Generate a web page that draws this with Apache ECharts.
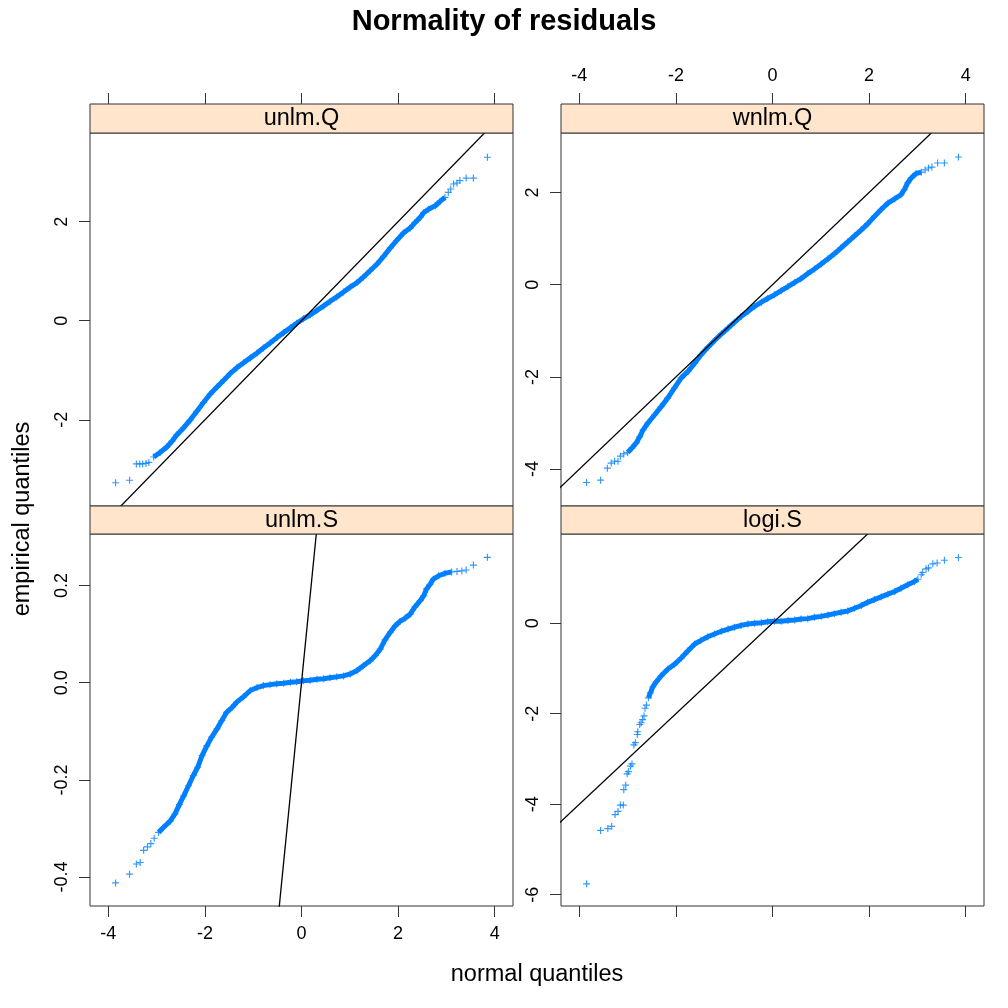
<!DOCTYPE html>
<html>
<head>
<meta charset="utf-8">
<title>Normality of residuals</title>
<script src="https://cdn.jsdelivr.net/npm/echarts@6.0.0/dist/echarts.min.js"></script>
<style>
html, body { margin: 0; padding: 0; background: #fff; }
#chart { width: 1008px; height: 1008px; }
</style>
</head>
<body>
<div id="chart"></div>
<script>
// strip labels: top-left, top-right, bottom-left, bottom-right
var panels = ['unlm.Q', 'wnlm.Q', 'unlm.S', 'logi.S'];

var xTicks = [-4, -2, 0, 2, 4];
var yTicksUnlmQ = [-2, 0, 2];
var yTicksWnlmQ = [-4, -2, 0, 2];
var yTicksUnlmS = [-0.4, -0.2, 0, 0.2];
var yTicksLogiS = [-6, -4, -2, 0];

// reference line y = x
var identity = [[-8, -8], [8, 8]];

// [normal quantile, empirical quantile]
var unlmQBand = [
    [-3.06, -2.75], [-2.93, -2.66], [-2.79, -2.55], [-2.68, -2.43], [-2.58, -2.30],
    [-2.44, -2.16], [-2.31, -2.01], [-2.17, -1.83], [-2.03, -1.65], [-1.89, -1.48],
    [-1.75, -1.34], [-1.61, -1.20], [-1.48, -1.07], [-1.34, -0.95], [-1.20, -0.85],
    [-1.06, -0.75], [-0.92, -0.65], [-0.79, -0.55], [-0.65, -0.45], [-0.51, -0.34],
    [-0.37, -0.24], [-0.23, -0.14], [-0.10, -0.05], [0.04, 0.04], [0.18, 0.12],
    [0.32, 0.21], [0.46, 0.30], [0.59, 0.39], [0.73, 0.48], [0.87, 0.58],
    [1.01, 0.68], [1.15, 0.77], [1.28, 0.88], [1.42, 1.01], [1.56, 1.14],
    [1.70, 1.30], [1.84, 1.47], [1.97, 1.62], [2.11, 1.77], [2.25, 1.87],
    [2.35, 1.98], [2.46, 2.09], [2.53, 2.18], [2.63, 2.25], [2.77, 2.32],
    [2.87, 2.41], [2.97, 2.49]
];
var unlmQTail = [
    [-3.85, -3.27], [-3.56, -3.22], [-3.42, -2.89], [-3.35, -2.89], [-3.29, -2.89],
    [-3.22, -2.88], [-3.16, -2.86], [3.04, 2.59], [3.09, 2.66], [3.15, 2.76],
    [3.22, 2.78], [3.28, 2.83], [3.41, 2.88], [3.56, 2.88], [3.85, 3.30]
];

var wnlmQBand = [
    [-3.00, -3.64], [-2.91, -3.54], [-2.82, -3.43], [-2.75, -3.30], [-2.68, -3.15],
    [-2.58, -3.00], [-2.44, -2.82], [-2.31, -2.65], [-2.17, -2.46], [-2.03, -2.24],
    [-1.89, -2.02], [-1.75, -1.88], [-1.61, -1.70], [-1.48, -1.52], [-1.34, -1.36],
    [-1.20, -1.21], [-1.06, -1.07], [-0.92, -0.94], [-0.79, -0.82], [-0.65, -0.69],
    [-0.51, -0.58], [-0.37, -0.47], [-0.23, -0.38], [-0.10, -0.30], [0.04, -0.22],
    [0.18, -0.13], [0.32, -0.04], [0.46, 0.05], [0.59, 0.13], [0.73, 0.24],
    [0.87, 0.34], [1.01, 0.45], [1.15, 0.56], [1.28, 0.67], [1.42, 0.80],
    [1.56, 0.93], [1.70, 1.06], [1.84, 1.19], [1.97, 1.32], [2.11, 1.48],
    [2.25, 1.63], [2.39, 1.77], [2.53, 1.86], [2.66, 1.95], [2.73, 2.06],
    [2.80, 2.21], [2.87, 2.31], [2.97, 2.41], [3.08, 2.44]
];
var wnlmQTail = [
    [-3.85, -4.29], [-3.56, -4.24], [-3.42, -3.98], [-3.34, -3.87], [-3.27, -3.83],
    [-3.20, -3.83], [-3.15, -3.72], [-3.08, -3.67], [3.16, 2.49], [3.23, 2.53],
    [3.30, 2.55], [3.42, 2.64], [3.56, 2.64], [3.85, 2.77]
];

var unlmSBand = [
    [-2.96, -0.308], [-2.86, -0.298], [-2.72, -0.285], [-2.62, -0.270], [-2.53, -0.251],
    [-2.44, -0.233], [-2.34, -0.212], [-2.24, -0.191], [-2.15, -0.174], [-2.06, -0.150],
    [-1.96, -0.130], [-1.86, -0.112], [-1.75, -0.095], [-1.65, -0.078], [-1.55, -0.061],
    [-1.44, -0.051], [-1.34, -0.040], [-1.20, -0.029], [-1.06, -0.016], [-0.92, -0.010],
    [-0.79, -0.006], [-0.65, -0.004], [-0.51, -0.002], [-0.37, -0.001], [-0.23, 0.001],
    [-0.10, 0.002], [0.04, 0.004], [0.18, 0.005], [0.32, 0.007], [0.46, 0.008],
    [0.59, 0.010], [0.73, 0.012], [0.87, 0.014], [1.01, 0.018], [1.15, 0.025],
    [1.28, 0.035], [1.42, 0.045], [1.53, 0.056], [1.63, 0.069], [1.73, 0.088],
    [1.84, 0.104], [1.94, 0.117], [2.04, 0.126], [2.15, 0.133], [2.25, 0.141],
    [2.35, 0.156], [2.46, 0.169], [2.53, 0.179], [2.59, 0.193], [2.66, 0.202],
    [2.73, 0.213], [2.84, 0.220], [2.97, 0.225], [3.11, 0.228]
];
var unlmSTail = [
    [-3.85, -0.412], [-3.56, -0.394], [-3.42, -0.373], [-3.34, -0.370], [-3.27, -0.345],
    [-3.19, -0.338], [-3.12, -0.331], [-3.05, -0.320], [3.22, 0.229], [3.32, 0.230],
    [3.41, 0.232], [3.56, 0.242], [3.85, 0.258]
];

var logiSBand = [
    [-2.57, -1.65], [-2.53, -1.54], [-2.48, -1.41], [-2.41, -1.30], [-2.31, -1.17],
    [-2.17, -1.02], [-2.03, -0.91], [-1.89, -0.77], [-1.75, -0.61], [-1.61, -0.46],
    [-1.48, -0.38], [-1.34, -0.30], [-1.20, -0.24], [-1.06, -0.18], [-0.92, -0.13],
    [-0.79, -0.09], [-0.65, -0.05], [-0.51, -0.02], [-0.37, 0.00], [-0.23, 0.01],
    [-0.10, 0.03], [0.04, 0.04], [0.18, 0.04], [0.32, 0.06], [0.46, 0.07],
    [0.59, 0.09], [0.73, 0.10], [0.87, 0.13], [1.01, 0.15], [1.15, 0.18],
    [1.28, 0.21], [1.42, 0.24], [1.56, 0.27], [1.70, 0.33], [1.84, 0.39],
    [1.97, 0.46], [2.11, 0.52], [2.25, 0.58], [2.39, 0.64], [2.53, 0.70],
    [2.66, 0.77], [2.80, 0.85], [2.94, 0.92], [3.01, 0.97]
];
var logiSTail = [
    [-3.85, -5.76], [-3.56, -4.58], [-3.41, -4.54], [-3.33, -4.49], [-3.26, -4.23],
    [-3.20, -4.16], [-3.15, -4.02], [-3.09, -4.02], [-3.08, -3.68], [-3.04, -3.58],
    [-3.01, -3.33], [-2.98, -3.28], [-2.94, -3.16], [-2.91, -3.11], [-2.87, -2.69],
    [-2.84, -2.64], [-2.80, -2.46], [-2.79, -2.40], [-2.75, -2.24], [-2.72, -2.20],
    [-2.69, -2.13], [-2.66, -2.05], [-2.64, -1.88], [-2.61, -1.81],
    [3.08, 1.07], [3.11, 1.12], [3.18, 1.20], [3.23, 1.22], [3.32, 1.31],
    [3.41, 1.33], [3.56, 1.39], [3.85, 1.45]
];

var blue = '#0080ff';
var frame = '#333333';
var font = 'Liberation Sans, Arial, Helvetica, sans-serif';
var plus = 'path://M5,0H7V5H12V7H7V12H5V7H0V5H5Z';

var boxes = [
    {left: 90, top: 133, width: 423, height: 373},
    {left: 561, top: 133, width: 423, height: 373},
    {left: 90, top: 534, width: 423, height: 372},
    {left: 561, top: 534, width: 423, height: 372}
];
var stripH = 29;

function xAxisFor(i, position, showLabel) {
    return {
        type: 'value', gridIndex: i, position: position,
        offset: position === 'top' ? stripH : 0,
        min: -4.38, max: 4.38,
        axisLine: {show: false, onZero: false},
        axisTick: {show: true, length: 11, customValues: xTicks, lineStyle: {color: frame, width: 1}},
        axisLabel: {show: showLabel, customValues: xTicks, margin: 19, fontSize: 18, fontFamily: font, color: '#000'},
        splitLine: {show: false}
    };
}

function yAxisFor(i, min, max, ticks, fmt) {
    return {
        type: 'value', gridIndex: i, position: 'left',
        min: min, max: max,
        axisLine: {show: false, onZero: false},
        axisTick: {show: true, length: 11, customValues: ticks, lineStyle: {color: frame, width: 1}},
        axisLabel: {
            show: true, customValues: ticks, rotate: 90, margin: 19,
            fontSize: 18, fontFamily: font, color: '#000',
            formatter: fmt || function (v) { return String(v); }
        },
        splitLine: {show: false}
    };
}

function panelSeries(i, band, tail) {
    return [
        {
            type: 'line', xAxisIndex: i, yAxisIndex: i, data: band,
            symbol: 'none', silent: true, z: 2,
            lineStyle: {color: blue, width: 5}
        },
        {
            type: 'scatter', xAxisIndex: i, yAxisIndex: i, data: tail.concat(band),
            symbol: plus, symbolSize: 7, silent: true, z: 3,
            itemStyle: {color: blue}
        },
        {
            type: 'line', xAxisIndex: i, yAxisIndex: i, data: identity,
            symbol: 'none', silent: true, clip: true, z: 4,
            lineStyle: {color: '#000', width: 1.3}
        }
    ];
}

var graphics = [];
boxes.forEach(function (b, i) {
    var h = i < 2 ? stripH : 28;
    graphics.push({
        type: 'rect', z: 10,
        shape: {x: b.left, y: b.top - h, width: b.width, height: h},
        style: {fill: '#ffe5cc', stroke: frame, lineWidth: 1}
    });
    graphics.push({
        type: 'text', z: 11,
        x: b.left + b.width / 2, y: b.top - h / 2 + 0.5,
        style: {text: panels[i], fill: '#000', font: '23.5px ' + font, align: 'center', verticalAlign: 'middle'}
    });
});
graphics.push({
    type: 'text', x: 504, y: 22,
    style: {text: 'Normality of residuals', fill: '#000', font: 'bold 29px ' + font, align: 'center', verticalAlign: 'middle'}
});
graphics.push({
    type: 'text', x: 537, y: 975,
    style: {text: 'normal quantiles', fill: '#000', font: '23.5px ' + font, align: 'center', verticalAlign: 'middle'}
});
graphics.push({
    type: 'text', x: 23, y: 519, rotation: Math.PI / 2,
    style: {text: 'empirical quantiles', fill: '#000', font: '23.5px ' + font, align: 'center', verticalAlign: 'middle'}
});

var option = {
    animation: false,
    backgroundColor: '#fff',
    grid: boxes.map(function (b) {
        return {
            left: b.left, top: b.top, width: b.width, height: b.height,
            containLabel: false, show: true, borderColor: frame, borderWidth: 1,
            backgroundColor: 'transparent'
        };
    }),
    xAxis: [
        xAxisFor(0, 'top', false),
        xAxisFor(1, 'top', true),
        xAxisFor(2, 'bottom', true),
        xAxisFor(3, 'bottom', false)
    ],
    yAxis: [
        yAxisFor(0, -3.74, 3.79, yTicksUnlmQ),
        yAxisFor(1, -4.80, 3.29, yTicksWnlmQ),
        yAxisFor(2, -0.4595, 0.306, yTicksUnlmS, function (v) { return v.toFixed(1); }),
        yAxisFor(3, -6.25, 1.97, yTicksLogiS)
    ],
    series: []
        .concat(panelSeries(0, unlmQBand, unlmQTail))
        .concat(panelSeries(1, wnlmQBand, wnlmQTail))
        .concat(panelSeries(2, unlmSBand, unlmSTail))
        .concat(panelSeries(3, logiSBand, logiSTail)),
    graphic: graphics
};

var chart = echarts.init(document.getElementById('chart'));
chart.setOption(option);
</script>
</body>
</html>
